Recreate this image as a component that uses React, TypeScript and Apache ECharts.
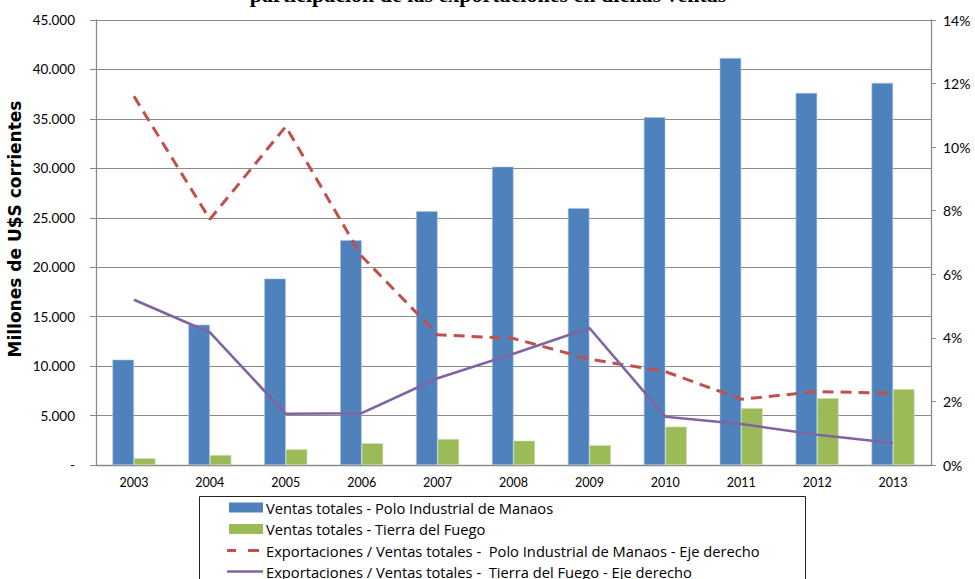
import React, { useEffect, useRef } from "react";
import * as echarts from "echarts";

const years = ["2003", "2004", "2005", "2006", "2007", "2008", "2009", "2010", "2011", "2012", "2013"];
const ventasManaos = [10650, 14190, 18850, 22730, 25670, 30170, 25980, 35170, 41150, 37630, 38640];
const ventasTDF = [680, 1010, 1590, 2200, 2630, 2460, 2000, 3880, 5740, 6760, 7670];
const expoManaos = [11.6, 7.73, 10.65, 6.57, 4.1, 3.98, 3.33, 2.94, 2.07, 2.31, 2.26];
const expoTDF = [5.2, 4.17, 1.61, 1.63, 2.73, 3.5, 4.31, 1.52, 1.29, 0.95, 0.69];

const seriesNames = [
  "Ventas totales - Polo Industrial de Manaos",
  "Ventas totales - Tierra del Fuego",
  "Exportaciones / Ventas totales -  Polo Industrial de Manaos - Eje derecho",
  "Exportaciones / Ventas totales -  Tierra del Fuego - Eje derecho",
];
const seriesColors = ["#4F81BD", "#9BBB59", "#C0504D", "#8064A2"];
const titleLine = "participación de las exportaciones en dichas ventas";
const yAxisName = "Millones de U$S corrientes";

const FONT = "Lato, 'Noto Sans', sans-serif";
const LEGEND_FONT = "'Open Sans', 'Noto Sans', sans-serif";

export default function App() {
  const ref = useRef<HTMLDivElement>(null);
  useEffect(() => {
    if (!ref.current) return;
    const chart = echarts.init(ref.current, undefined, { renderer: "svg" });
    const gray = "#8a8a8a";

    const rowY = [507.5, 529, 550.5, 571.5];
    const legendGraphics: any[] = [
      {
        type: "rect",
        shape: { x: 199.5, y: 496.5, width: 606, height: 120 },
        style: { fill: "none", stroke: "#222", lineWidth: 1 },
        silent: true,
      },
      {
        type: "rect",
        shape: { x: 229, y: rowY[0] - 5, width: 34, height: 10 },
        style: { fill: seriesColors[0] },
      },
      {
        type: "rect",
        shape: { x: 229, y: rowY[1] - 5, width: 34, height: 10 },
        style: { fill: seriesColors[1] },
      },
      {
        type: "line",
        shape: { x1: 227, y1: rowY[2], x2: 236, y2: rowY[2] },
        style: { stroke: seriesColors[2], lineWidth: 3 },
      },
      {
        type: "line",
        shape: { x1: 248, y1: rowY[2], x2: 259, y2: rowY[2] },
        style: { stroke: seriesColors[2], lineWidth: 3 },
      },
      {
        type: "line",
        shape: { x1: 227, y1: rowY[3], x2: 263, y2: rowY[3] },
        style: { stroke: seriesColors[3], lineWidth: 2.6 },
      },
    ];
    seriesNames.forEach((name, i) => {
      legendGraphics.push({
        type: "text",
        x: 266,
        y: rowY[i],
        style: {
          text: name,
          font: `14.7px ${LEGEND_FONT}`,
          fill: "#000",
          align: "left",
          verticalAlign: "middle",
        },
      });
    });

    chart.setOption({
      animation: false,
      backgroundColor: "#ffffff",
      textStyle: { fontFamily: FONT },
      graphic: [
        {
          type: "text",
          x: 488,
          y: 5,
          style: {
            text: titleLine,
            font: "bold 22px 'Liberation Serif', 'Times New Roman', serif",
            fill: "#000",
            align: "center",
            verticalAlign: "bottom",
          },
        },
        {
          type: "text",
          x: 15,
          y: 229,
          rotation: Math.PI / 2,
          style: {
            text: yAxisName,
            font: "bold 17px 'DejaVu Sans', sans-serif",
            fill: "#000",
            align: "center",
            verticalAlign: "middle",
          },
        },
        ...legendGraphics,
      ],
      grid: { left: 96, right: 44, top: 20, bottom: 114, containLabel: false, outerBoundsMode: "none" },
      legend: { show: false },
      xAxis: {
        type: "category",
        data: years,
        axisLine: { show: true, lineStyle: { color: gray, width: 1.3 } },
        axisTick: { show: false },
        axisLabel: { color: "#000", fontSize: 12.5, margin: 11, fontFamily: FONT },
      },
      yAxis: [
        {
          type: "value",
          min: 0,
          max: 45000,
          interval: 5000,
          axisLine: { show: true, lineStyle: { color: gray, width: 1.3 } },
          axisTick: { show: true, inside: false, length: 6, lineStyle: { color: gray } },
          axisLabel: {
            color: "#000",
            fontSize: 13.5,
            margin: 21,
            fontFamily: FONT,
            formatter: (v: number) =>
              v === 0 ? "-" : String(v).replace(/\B(?=(\d{3})+(?!\d))/g, "."),
          },
          splitLine: { show: true, lineStyle: { color: gray, width: 1.2 } },
        },
        {
          type: "value",
          min: 0,
          max: 14,
          interval: 2,
          position: "right",
          axisLine: { show: true, lineStyle: { color: gray, width: 1.3 } },
          axisTick: { show: true, inside: false, length: 5, lineStyle: { color: gray } },
          axisLabel: { color: "#000", fontSize: 14, margin: 12, fontFamily: FONT, formatter: "{value}%" },
          splitLine: { show: false },
        },
      ],
      series: [
        {
          name: seriesNames[0],
          type: "bar",
          data: ventasManaos,
          barWidth: 21.5,
          barGap: "0%",
          itemStyle: { color: seriesColors[0], borderColor: "#a9c2e0", borderWidth: 0.6 },
        },
        {
          name: seriesNames[1],
          type: "bar",
          data: ventasTDF,
          barWidth: 21.5,
          barGap: "0%",
          itemStyle: { color: seriesColors[1], borderColor: "#cfe0b0", borderWidth: 0.6 },
        },
        {
          name: seriesNames[2],
          type: "line",
          yAxisIndex: 1,
          data: expoManaos,
          symbol: "none",
          lineStyle: { color: seriesColors[2], width: 3, type: [11, 7] },
          itemStyle: { color: seriesColors[2] },
          z: 5,
        },
        {
          name: seriesNames[3],
          type: "line",
          yAxisIndex: 1,
          data: expoTDF,
          symbol: "none",
          lineStyle: { color: seriesColors[3], width: 2.6 },
          itemStyle: { color: seriesColors[3] },
          z: 5,
        },
      ],
    });
    return () => chart.dispose();
  }, []);
  return <div ref={ref} style={{ width: 975, height: 579, position: "absolute", left: 0, top: 0 }} />;
}
